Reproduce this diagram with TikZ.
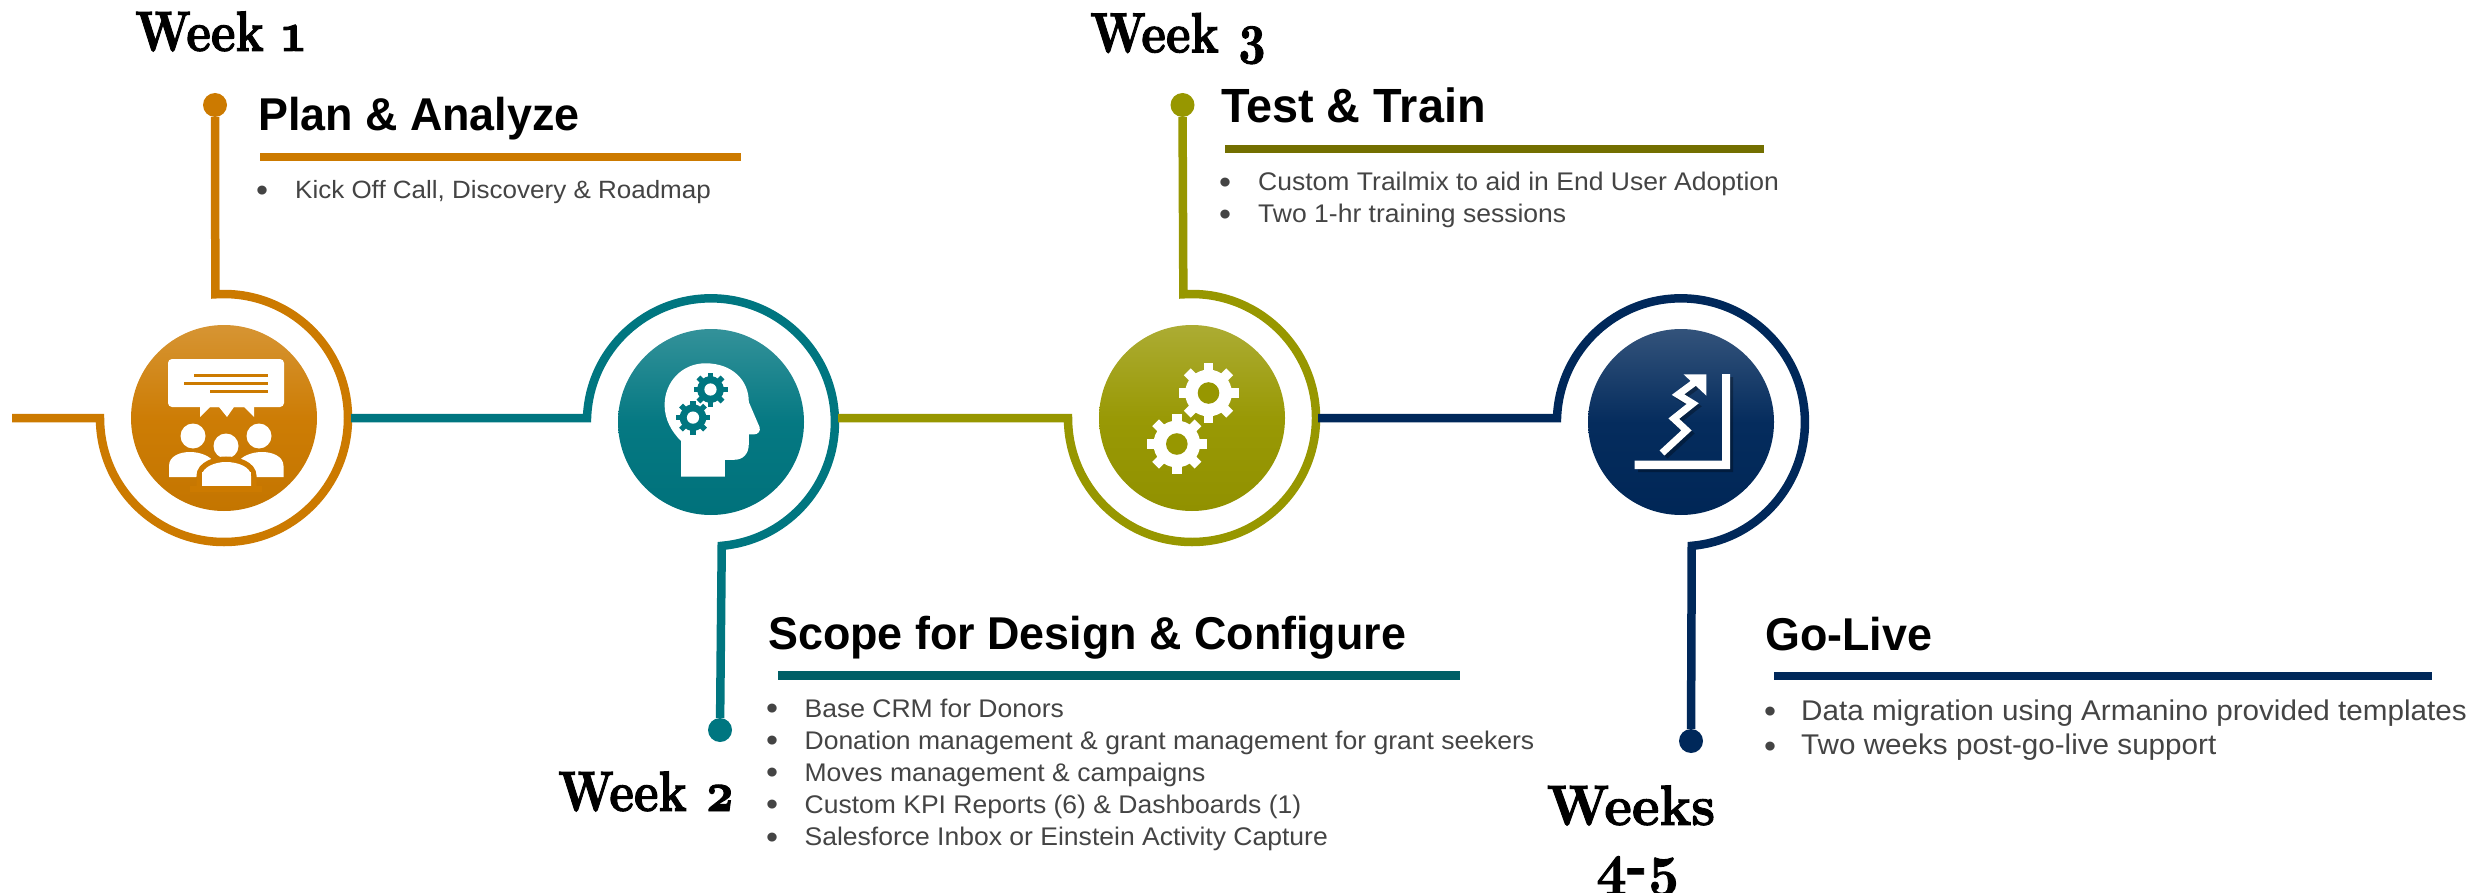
\documentclass[tikz,border=0pt]{standalone}
\usepackage{fontspec}
\setmainfont{Liberation Sans}
\newfontfamily\weekfont[Numbers=OldStyle,FakeStretch=0.82,FakeBold=1.6]{lmroman10-bold.otf}
\newfontfamily\weeksfont[Numbers=OldStyle,FakeStretch=0.92,FakeBold=1.6]{lmroman10-bold.otf}
\newfontfamily\titlefont[FakeStretch=0.975]{Liberation Sans}
\newfontfamily\bodyfont[FakeStretch=1.04]{Liberation Sans}
\usepackage{tikz}
\usetikzlibrary{arrows.meta}

\definecolor{planclr}{HTML}{CC7A00}
\definecolor{scopeclr}{HTML}{007680}
\definecolor{testclr}{HTML}{979700}
\definecolor{liveclr}{HTML}{00285A}
\definecolor{scopebar}{HTML}{005F66}
\definecolor{testbar}{HTML}{736F00}
\definecolor{bodyclr}{HTML}{444444}

\tikzset{
	hubnode/.style={circle, minimum size=186pt, inner sep=0pt,
		top color=#1!80!white, bottom color=#1!96!black, middle color=#1!98!white},
	dotnode/.style={circle, minimum size=24pt, inner sep=0pt, fill=#1},
	ringline/.style={draw=#1, line width=8.5pt},
	rulebar/.style={draw=#1, line width=8.5pt},
	weeklabel/.style={anchor=base west, inner sep=0pt, font={\fontsize{57}{63}\weekfont}},
	titlelabel/.style={anchor=base west, inner sep=0pt, font={\fontsize{46}{50}\titlefont\bfseries}},
	itemlabel/.style={anchor=base west, inner sep=0pt, text=bodyclr, font={\fontsize{25}{30}\bodyfont}}
}

\newcommand{\gearwheel}[5]{
	\fill[#4] (#1,#2) circle[radius=0.78*#3];
	\foreach \Ang in {0,45,...,315}{
		\fill[#4, rotate around={\Ang:(#1,#2)}] ({#1-0.16*#3},#2) rectangle ({#1+0.16*#3},{#2+#3});
	}
	\fill[#5] (#1,#2) circle[radius=0.36*#3];
}
\newcommand{\itemmark}[1]{\makebox[#1][l]{\hspace*{-2pt}\fontsize{33}{30}\selectfont\raisebox{-2.6pt}{•}}}

\begin{document}
\begin{tikzpicture}[x=1pt, y=1pt]
	\useasboundingbox (0,0) rectangle (2470,-893);

	\node[hubnode=planclr] (plan) at (224,-418) {};
	\node[hubnode=scopeclr] (scope) at (711,-422) {};
	\node[hubnode=testclr] (test) at (1192,-418) {};
	\node[hubnode=liveclr] (live) at (1681,-422) {};

	\node[dotnode=planclr] (plandot) at (215,-105) {};
	\node[dotnode=scopeclr] (scopedot) at (720,-730) {};
	\node[dotnode=testclr] (testdot) at (1182.5,-105) {};
	\node[dotnode=liveclr] (livedot) at (1691,-741) {};

	\coordinate (planin) at (12,-418);
	\coordinate (scopein) at (351,-418);
	\coordinate (testin) at (838,-418);
	\coordinate (livein) at (1318,-418);

	\draw[ringline=planclr] (planin) -- (100,-418) arc[start angle=180, end angle=454, radius=124] -- (plandot);
	\draw[ringline=scopeclr] (scopein) -- (587,-418) arc[start angle=178, end angle=-85, radius=124] -- (scopedot);
	\draw[ringline=testclr] (testin) -- (1068,-418) arc[start angle=180, end angle=454, radius=124] -- (testdot);
	\draw[ringline=liveclr] (livein) -- (1557,-418) arc[start angle=178, end angle=-85, radius=124] -- (livedot);

	% plan icon
	\fill[white, rounded corners=4pt] (168,-359) rectangle (284,-407);
	\fill[white] (200,-406) -- (200,-417) -- (210,-407) -- (219,-407) -- (227,-417) -- (234,-407) -- (244,-407) -- (254,-417) -- (254,-406) -- cycle;
	\fill[planclr] (194,-374) rectangle (268,-377);
	\fill[planclr] (184,-382) rectangle (268,-385);
	\fill[planclr] (210,-390) rectangle (268,-393);
	\foreach \Hx/\Hy in {193/436, 259/436, 226/446}{
		\fill[white] (\Hx,-\Hy) ellipse[x radius=12.5, y radius=12.5];
	}
	\fill[white] (169,-477) -- (169,-466) .. controls (169,-456) and (180,-452) .. (190,-452) .. controls (200,-452) and (210,-456) .. (214,-462) -- (196,-477) -- cycle;
	\fill[white] (283.5,-477) -- (283.5,-466) .. controls (283.5,-456) and (272,-452) .. (262,-452) .. controls (252,-452) and (242,-456) .. (238,-462) -- (256,-477) -- cycle;
	\path[preaction={draw=planclr, line width=11pt}, fill=white] (202,-486) -- (202,-476) .. controls (202,-467) and (215,-462) .. (226,-462) .. controls (238,-462) and (251,-467) .. (251,-476) -- (251,-486) -- cycle;
	\fill[planclr] (190,-486) rectangle (262,-492);
	\fill[white] (202,-472) rectangle (251,-486);

	% scope icon
	\fill[white] (681,-476.6) -- (724.8,-476.6) -- (724.8,-459.8) -- (734,-459.8) .. controls (743,-459.8) and (748.8,-454) .. (748.8,-444) -- (748.8,-434.4) -- (754,-434.4) .. controls (758,-434.4) and (761,-431) .. (759.5,-427) -- (748.8,-402) .. controls (748.8,-380) and (732,-363.3) .. (705.4,-363.3) .. controls (682,-363.3) and (664.6,-382) .. (664.6,-405) .. controls (664.6,-420) and (672,-432) .. (681,-441) -- cycle;
	\gearwheel{710.5}{-389.5}{17}{scopeclr}{white}
	\gearwheel{693}{-417.6}{17}{scopeclr}{white}

	% test icon
	\gearwheel{1208.5}{-393}{30}{white}{testclr}
	\gearwheel{1176.8}{-444}{30}{white}{testclr}

	% live icon
	\fill[black, opacity=0.3] (1725,-377) -- (1733,-377) -- (1733,-472) -- (1638,-472) -- (1638,-464) -- (1725,-464) -- cycle;
	\draw[black, opacity=0.3, line width=7pt] (1665,-456) -- (1689.5,-433.4) -- (1676.8,-421.6) -- (1695.7,-406.6) -- (1681,-397.6) -- (1700.8,-383);
	\fill[white] (1722,-374) -- (1730,-374) -- (1730,-469) -- (1634.5,-469) -- (1634.5,-460.7) -- (1722,-460.7) -- cycle;
	\draw[white, line width=7pt] (1662,-453) -- (1686.5,-430.4) -- (1673.8,-418.6) -- (1692.7,-403.6) -- (1678,-394.6) -- (1697.8,-380);
	\fill[white] (1683.5,-374.3) -- (1706.4,-374.3) -- (1706.4,-395.7) -- cycle;

	\node[weeklabel] (planweek) at (135,-51) {Week 1};
	\node[weeklabel] (scopeweek) at (558,-811) {Week 2};
	\node[weeklabel] (testweek) at (1090,-52.5) {Week 3};
	\node[weeklabel, anchor=base, align=center, font={\fontsize{57}{63}\weeksfont}] (liveweek) at (1631,-884) {Weeks\\[-4pt]\hspace*{14pt}4-5};

	\node[titlelabel] (plantitle) at (258,-131) {Plan \& Analyze};
	\node[titlelabel] (scopetitle) at (768,-649.5) {Scope for Design \& Configure};
	\node[titlelabel, font={\fontsize{48}{50}\titlefont\bfseries}] (testtitle) at (1221,-123) {Test \& Train};
	\node[titlelabel] (livetitle) at (1765,-650) {Go-Live};

	\draw[rulebar=planclr] (260,-157) -- (741,-157);
	\draw[rulebar=scopebar] (778,-675.6) -- (1460,-675.6);
	\draw[rulebar=testbar] (1225,-149) -- (1764,-149);
	\draw[rulebar=liveclr] (1774,-675.8) -- (2432,-675.8);

	\foreach \Line [count=\i] in {{Kick Off Call, Discovery \& Roadmap}}{
		\node[itemlabel] (planitem\i) at (258,{-198.6-32*(\i-1)}) {\itemmark{37pt}\Line};
	}
	\foreach \Line [count=\i] in {
		{Base CRM for Donors},
		{Donation management \& grant management for grant seekers},
		{Moves management \& campaigns},
		{Custom KPI Reports (6) \& Dashboards (1)},
		{Salesforce Inbox or Einstein Activity Capture}
	}{
		\node[itemlabel, font={\fontsize{25.5}{30}\bodyfont}] (scopeitem\i) at (768,{-717-32.1*(\i-1)}) {\itemmark{36.4pt}\Line};
	}
	\foreach \Line [count=\i] in {
		{Custom Trailmix to aid in End User Adoption},
		{Two 1-hr training sessions}
	}{
		\node[itemlabel, font={\fontsize{25.5}{30}\bodyfont}] (testitem\i) at (1221,{-191-31.5*(\i-1)}) {\itemmark{37pt}\Line};
	}
	\foreach \Line [count=\i] in {
		{Data migration using Armanino provided templates},
		{Two weeks post-go-live support}
	}{
		\node[itemlabel, font={\fontsize{28.5}{30}\bodyfont}] (liveitem\i) at (1766,{-720-34.6*(\i-1)}) {\itemmark{35pt}\Line};
	}
\end{tikzpicture}
\end{document}
